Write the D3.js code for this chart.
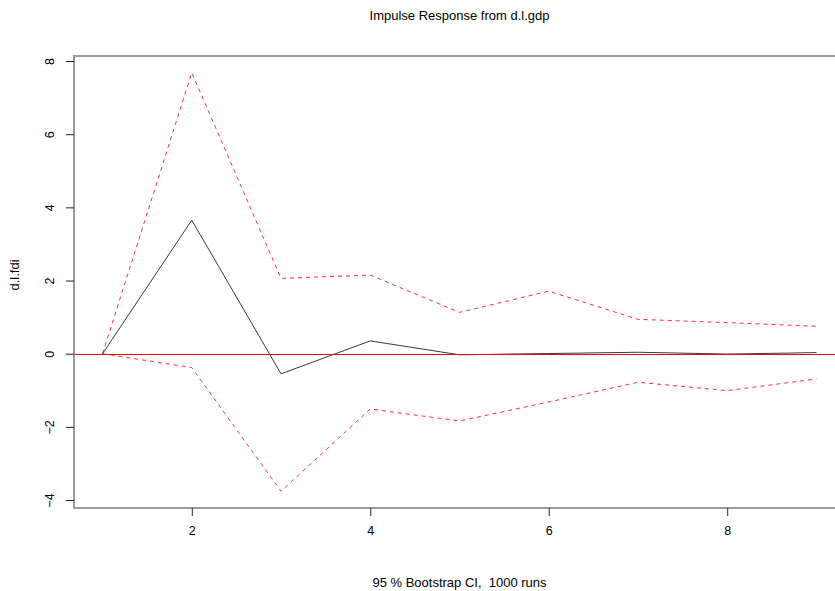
<!DOCTYPE html>
<html>
<head>
<meta charset="utf-8">
<script src="https://cdn.jsdelivr.net/npm/d3@7"></script>
<style>
  html, body { margin: 0; padding: 0; background: #fff; }
  svg { display: block; font-family: "Liberation Sans", Arial, sans-serif; }
</style>
</head>
<body>
<svg id="chart" width="835" height="591"></svg>
<script>
// Impulse response of d.l.fdi to a shock in d.l.gdp, with bootstrap bands
const steps = [1, 2, 3, 4, 5, 6, 7, 8, 9];
const response = [0, 3.65, -0.55, 0.35, -0.03, 0.005, 0.04, -0.01, 0.03];
const upperCI = [0, 7.68, 2.06, 2.15, 1.13, 1.71, 0.94, 0.85, 0.75];
const lowerCI = [0, -0.38, -3.76, -1.51, -1.84, -1.32, -0.78, -1.01, -0.69];
const xTicks = [2, 4, 6, 8];
const yTicks = [-4, -2, 0, 2, 4, 6, 8];
const titleText = "Impulse Response from d.l.gdp";
const xLabel = "95 % Bootstrap CI,  1000 runs";
const yLabel = "d.l.fdi";

const svg = d3.select("#chart");
const plot = { left: 74, top: 56, right: 845, bottom: 508 };
const midX = (plot.left + plot.right) / 2;

// R-style axis ranges: data extent padded by 4% on each side
function padded(lo, hi) { const d = (hi - lo) * 0.04; return [lo - d, hi + d]; }
const xDom = padded(d3.min(steps), d3.max(steps));
const yAll = response.concat(upperCI, lowerCI);
const yDom = padded(d3.min(yAll), d3.max(yAll));

const x = d3.scaleLinear().domain(xDom).range([plot.left, plot.right]);
const y = d3.scaleLinear().domain(yDom).range([plot.bottom, plot.top]);

const line = d3.line().x((d, i) => x(steps[i])).y(d => y(d));

// confidence bands
[upperCI, lowerCI].forEach(ci => {
  svg.append("path")
    .datum(ci)
    .attr("d", line)
    .attr("fill", "none")
    .attr("stroke", "#ff3030")
    .attr("stroke-width", 1)
    .attr("stroke-dasharray", "4,4");
});

// point estimate
svg.append("path")
  .datum(response)
  .attr("d", line)
  .attr("fill", "none")
  .attr("stroke", "#222")
  .attr("stroke-width", 0.9);

// zero reference line
const y0 = Math.round(y(0)) + 0.5;
svg.append("line")
  .attr("x1", plot.left).attr("x2", plot.right)
  .attr("y1", y0).attr("y2", y0)
  .attr("stroke", "#ff0000")
  .attr("stroke-width", 1)
  .attr("shape-rendering", "crispEdges");

// plot frame
svg.append("rect")
  .attr("x", plot.left).attr("y", plot.top)
  .attr("width", plot.right - plot.left).attr("height", plot.bottom - plot.top)
  .attr("fill", "none")
  .attr("stroke", "#9a9a9a")
  .attr("stroke-width", 2);

// x axis
const xAxis = d3.axisBottom(x).tickValues(xTicks).tickSize(8).tickPadding(10)
  .tickFormat(d3.format("d"));
const gx = svg.append("g").attr("transform", `translate(0,${plot.bottom})`).call(xAxis);
gx.select(".domain").remove();
gx.selectAll(".tick line").attr("stroke", "#222");
gx.selectAll(".tick text").attr("font-size", 12.5).attr("fill", "#000")
  .attr("font-family", "Liberation Sans, Arial, sans-serif");

// y axis with labels parallel to the axis
const yAxis = d3.axisLeft(y).tickValues(yTicks).tickSize(8).tickFormat(d3.format("d"));
const gy = svg.append("g").attr("transform", `translate(${plot.left},0)`).call(yAxis);
gy.select(".domain").remove();
gy.selectAll(".tick line").attr("stroke", "#222");
gy.selectAll(".tick text")
  .attr("x", null).attr("dy", null)
  .attr("text-anchor", "middle")
  .attr("transform", "translate(-20,0) rotate(-90)")
  .attr("font-size", 12.5).attr("fill", "#000")
  .attr("font-family", "Liberation Sans, Arial, sans-serif");

// titles
svg.append("text")
  .attr("x", midX).attr("y", 20)
  .attr("text-anchor", "middle")
  .attr("font-size", 13)
  .text(titleText);

svg.append("text")
  .attr("x", midX).attr("y", 587)
  .attr("text-anchor", "middle")
  .attr("font-size", 13)
  .style("white-space", "pre")
  .text(xLabel);

svg.append("text")
  .attr("transform", "translate(19,275) rotate(-90)")
  .attr("text-anchor", "middle")
  .attr("font-size", 13)
  .text(yLabel);
</script>
</body>
</html>
